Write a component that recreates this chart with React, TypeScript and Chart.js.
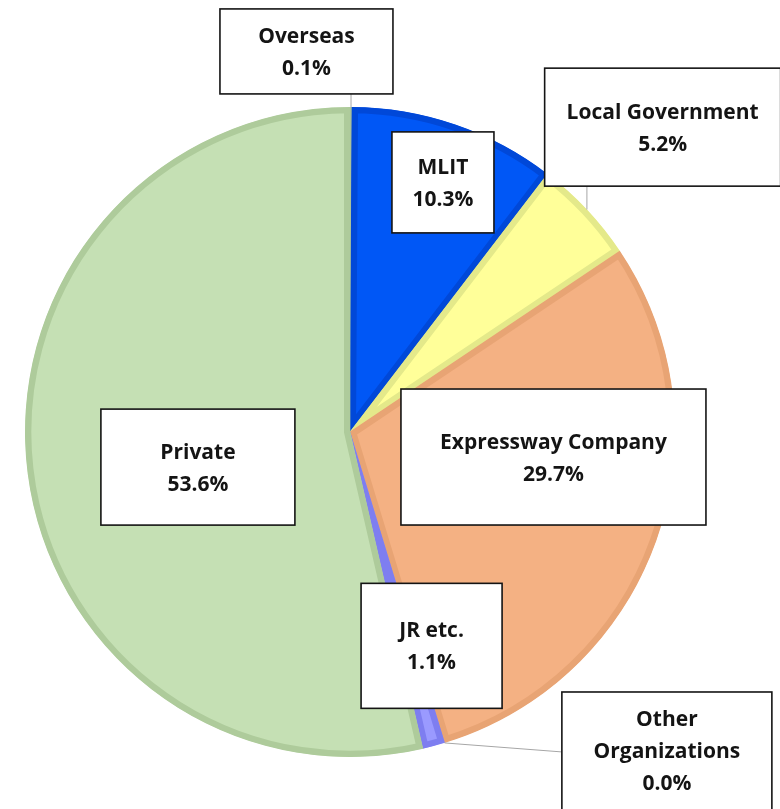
import React, { useEffect, useRef } from "react";
import { Chart, registerables } from "chart.js";

Chart.register(...registerables);

// ---- data ----
const categories = ["Overseas", "MLIT", "Local Government", "Expressway Company", "Other Organizations", "JR etc.", "Private"];
const shares = [0.1, 10.3, 5.2, 29.7, 0.0, 1.1, 53.6];
const labelLines = [
  ["Overseas"],
  ["MLIT"],
  ["Local Government"],
  ["Expressway Company"],
  ["Other", "Organizations"],
  ["JR etc."],
  ["Private"],
];
const fillColors = ["#B4C7A8", "#0057F6", "#FFFF99", "#F4B183", "#A5A5A5", "#9A9AFF", "#C5E0B4"];
const edgeColors = ["#A8BE9A", "#0048D8", "#E4E98A", "#E8A474", "#909090", "#7E7EF0", "#AECB9B"];

// label box layout: center offset in units of the pie radius, box size in px
const boxCenters = [
  [-0.134, -1.171],
  [0.286, -0.768],
  [0.962, -0.938],
  [0.626, 0.077],
  [0.975, 0.9815],
  [0.251, 0.658],
  [-0.468, 0.108],
];
const boxSizes = [
  [173, 85],
  [102, 101],
  [236, 118],
  [305, 136],
  [210, 118],
  [141, 125],
  [194, 116],
];
const leaderFor = [true, false, true, false, true, false, false];

const FONT = "bold 21px 'Open Sans', Lato, sans-serif";
const LINE_H = 32;

const labelPlugin = {
  id: "boxLabels",
  afterDatasetsDraw(chart: any) {
    const ctx = chart.ctx;
    const meta = chart.getDatasetMeta(0);
    const arcs = meta.data;
    if (!arcs.length) return;
    const cx = arcs[0].x;
    const cy = arcs[0].y;
    const r = arcs[0].outerRadius;
    ctx.save();
    arcs.forEach((arc: any, i: number) => {
      const bw = boxSizes[i][0];
      const bh = boxSizes[i][1];
      const bx = cx + boxCenters[i][0] * r;
      const by = cy + boxCenters[i][1] * r;
      const left = bx - bw / 2;
      const top = by - bh / 2;
      // leader line
      if (leaderFor[i]) {
        const mid = (arc.startAngle + arc.endAngle) / 2;
        const px = cx + Math.cos(mid) * r;
        const py = cy + Math.sin(mid) * r;
        let ex: number, ey: number;
        if (py > top + bh) { ex = px; ey = top + bh; }
        else if (py < top) { ex = px; ey = top; }
        else { ex = left; ey = py + 9; }
        ctx.strokeStyle = "#A6A6A6";
        ctx.lineWidth = 1;
        ctx.beginPath();
        ctx.moveTo(px, py);
        ctx.lineTo(ex, ey);
        ctx.stroke();
      }
      ctx.fillStyle = "#FFFFFF";
      ctx.fillRect(left, top, bw, bh);
      ctx.strokeStyle = "#141414";
      ctx.lineWidth = 1.6;
      ctx.strokeRect(left, top, bw, bh);
      const lines = [...labelLines[i], shares[i].toFixed(1) + "%"];
      ctx.fillStyle = "#141414";
      ctx.font = FONT;
      ctx.textAlign = "center";
      ctx.textBaseline = "middle";
      const startY = by + 1.5 - ((lines.length - 1) * LINE_H) / 2;
      lines.forEach((t, k) => ctx.fillText(t, bx, startY + k * LINE_H));
    });
    ctx.restore();
  },
};

export default function App() {
  const ref = useRef<HTMLCanvasElement | null>(null);
  useEffect(() => {
    if (!ref.current) return;
    const chart = new Chart(ref.current, {
      type: "pie",
      data: {
        labels: categories,
        datasets: [
          {
            data: shares,
            backgroundColor: fillColors,
            borderColor: edgeColors,
            borderWidth: 6,
            borderAlign: "inner",
            hoverOffset: 0,
            hoverBorderWidth: 6,
          } as any,
        ],
      },
      options: {
        responsive: false,
        animation: false,
        events: [],
        layout: { padding: { left: 25, right: 105, top: 107, bottom: 52 } },
        plugins: { legend: { display: false }, tooltip: { enabled: false } },
      },
      plugins: [labelPlugin],
    });
    return () => chart.destroy();
  }, []);
  return (
    <div style={{ position: "absolute", left: 0, top: 0, width: 780, height: 809, background: "#fff" }}>
      <canvas ref={ref} width={780} height={809} style={{ display: "block" }} />
    </div>
  );
}
